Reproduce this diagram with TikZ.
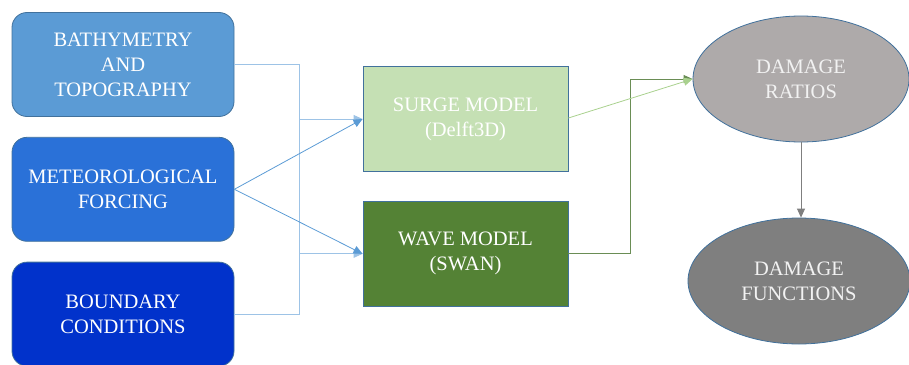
\documentclass[tikz,border=0pt]{standalone}
\usepackage{fontspec}
\setmainfont{Liberation Serif}
\usepackage{tikz}
\usetikzlibrary{arrows.meta,shapes,positioning,calc}

\definecolor{bathyblue}{HTML}{5B9BD5}
\definecolor{metblue}{HTML}{2A71D8}
\definecolor{boundblue}{HTML}{0132CB}
\definecolor{edgeblue}{HTML}{41719C}
\definecolor{buslight}{HTML}{9DC3E6}
\definecolor{surgegreen}{HTML}{C5E0B4}
\definecolor{wavegreen}{HTML}{548235}
\definecolor{linkgreen}{HTML}{A9D18E}
\definecolor{darklink}{HTML}{6A8D55}
\definecolor{ratiogray}{HTML}{AEAAAA}
\definecolor{funcgray}{HTML}{7F7F7F}

\begin{document}
\begin{tikzpicture}[x=1pt,y=-1pt,
    font=\fontsize{20.5}{25}\selectfont,
    inbox/.style={draw=edgeblue, line width=0.8pt, rounded corners=15pt, text=white,
        minimum width=222pt, minimum height=104pt, align=center, inner sep=0pt},
    modelbox/.style={draw=edgeblue, line width=0.8pt, text=white,
        minimum width=205pt, minimum height=105pt, align=center, inner sep=0pt},
    damage/.style={draw=edgeblue, line width=0.8pt, ellipse, text=white!95!black,
        align=center, inner sep=0pt},
    feed/.style={line width=0.8pt, -{Triangle[length=9pt,width=8pt]}}]
    \useasboundingbox (0,0) rectangle (909,364);

    \node[inbox, fill=bathyblue] (bathy) at (123,64.5) {BATHYMETRY\\AND\\TOPOGRAPHY};
    \node[inbox, fill=metblue, below=20pt of bathy] (met) {METEOROLOGICAL\\FORCING};
    \node[inbox, fill=boundblue, below=20pt of met] (bound) {BOUNDARY\\CONDITIONS};

    \node[modelbox, fill=surgegreen] (surge) at (465.5,119) {SURGE MODEL\\(Delft3D)};
    \node[modelbox, fill=wavegreen, below=29pt of surge] (wave) {WAVE MODEL\\(SWAN)};

    \node[damage, fill=ratiogray, minimum width=216pt, minimum height=126pt] (ratios) at (801,79) {DAMAGE\\RATIOS};
    \node[damage, fill=funcgray, minimum width=222pt, minimum height=126pt] (functions) at (799,281) {DAMAGE\\FUNCTIONS};

    \coordinate (bus) at (299,0);
    \coordinate (turn) at (630,0);

    \draw[buslight, line width=0.8pt] (bathy.east) -- (bathy.east -| bus) -- (bound.east -| bus) -- (bound.east);
    \draw[feed, draw=buslight, fill=bathyblue] (surge.west -| bus) -- (surge.west);
    \draw[feed, draw=buslight, fill=bathyblue] (wave.west -| bus) -- (wave.west);
    \draw[feed, bathyblue] (met.east) -- (surge.west);
    \draw[feed, bathyblue] (met.east) -- (wave.west);

    \draw[feed, darklink] (wave.east) -- (wave.east -| turn) |- (ratios.west);
    \draw[feed, linkgreen] ($(surge.east)+(0,-1)$) -- (ratios.west);
    \draw[feed, funcgray] (ratios.south) -- (ratios.south |- functions.north);
\end{tikzpicture}
\end{document}
